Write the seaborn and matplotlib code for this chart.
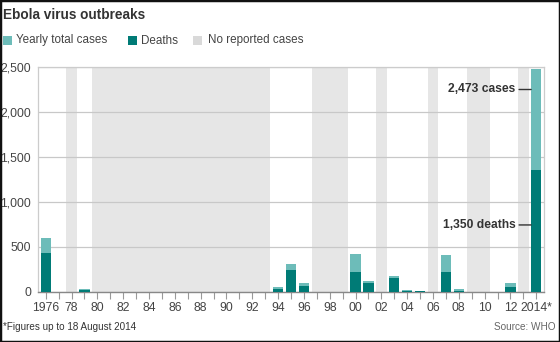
import matplotlib
matplotlib.use("Agg")
import matplotlib.pyplot as plt
from matplotlib.patches import Rectangle
import numpy as np
import pandas as pd
import seaborn as sns

# ---- data ----
years = [1976, 1977, 1979, 1994, 1995, 1996, 2000, 2001, 2003, 2004, 2005,
         2007, 2008, 2011, 2012, 2014]
cases = [602, 1, 34, 53, 315, 99, 425, 122, 178, 18, 12, 413, 32, 1, 100, 2473]
deaths = [431, 1, 22, 32, 250, 67, 224, 96, 157, 8, 10, 224, 15, 1, 57, 1350]
no_case_years = [1978] + list(range(1980, 1994)) + [1997, 1998, 1999, 2002,
                                                    2006, 2009, 2010, 2013]
tick_years = list(range(1976, 2015))
tick_labels = ["1976" if y == 1976 else ("2014*" if y == 2014 else
               (f"{y % 100:02d}" if y % 2 == 0 else "")) for y in tick_years]
y_ticks = [0, 500, 1000, 1500, 2000, 2500]
y_tick_labels = ["0", "500", "1,000", "1,500", "2,000", "2,500"]

df = pd.DataFrame({"year": years, "cases": cases, "deaths": deaths})

LIGHT = "#6dbcb9"
DARK = "#007b76"
BAND = "#e6e6e6"
FONT = ["Liberation Sans", "DejaVu Sans"]

sns.set_theme(style="white")
plt.rcParams["font.family"] = FONT
plt.rcParams["patch.force_edgecolor"] = False

fig = plt.figure(figsize=(5.6, 3.42), dpi=100)
ax = fig.add_axes([38 / 560, 1 - 292 / 342, (544 - 38) / 560, (292 - 67) / 342])

# no-case bands (contiguous runs)
runs = []
for y in no_case_years:
    if runs and y == runs[-1][1] + 1:
        runs[-1][1] = y
    else:
        runs.append([y, y])
for a, b in runs:
    ax.axvspan(a - 0.4, b + 0.4, color=BAND, lw=0, zorder=0.2)

sns.barplot(data=df, x="year", y="cases", native_scale=True, color=LIGHT,
            saturation=1, width=0.8, ax=ax, zorder=2, linewidth=0,
            edgecolor="none")
sns.barplot(data=df, x="year", y="deaths", native_scale=True, color=DARK,
            saturation=1, width=0.8, ax=ax, zorder=3, linewidth=0,
            edgecolor="none")

ax.set_xlim(1975.4, 2014.6)
ax.set_ylim(0, 2500)
ax.set_xlabel("")
ax.set_ylabel("")
ax.set_xticks(tick_years)
ax.set_xticklabels(tick_labels, fontsize=8.7, color="#444")
ax.set_yticks(y_ticks)
ax.set_yticklabels(y_tick_labels, fontsize=8.7, color="#444")
ax.tick_params(axis="x", length=5, width=0.8, color="#999", pad=2, bottom=True)
ax.tick_params(axis="y", length=0, pad=5, left=False)
ax.yaxis.grid(True, color="#c8c8c8", lw=0.9, zorder=0.5)
ax.xaxis.grid(False)
ax.set_axisbelow(True)
for s in ["top", "right", "left"]:
    ax.spines[s].set_visible(True)
    ax.spines[s].set_color("#cccccc")
    ax.spines[s].set_linewidth(0.9)
ax.spines["bottom"].set_color("#888888")
ax.spines["bottom"].set_linewidth(1.0)

# annotations
ax.annotate("2,473 cases", xy=(2013.6, 2250), xytext=(2012.4, 2250),
            ha="right", va="center", fontsize=8.7, fontweight="bold",
            color="#333",
            arrowprops=dict(arrowstyle="-", color="#333", lw=1.0,
                            shrinkA=0.5, shrinkB=0))
ax.annotate("1,350 deaths", xy=(2013.6, 745), xytext=(2012.4, 745),
            ha="right", va="center", fontsize=8.7, fontweight="bold",
            color="#333",
            arrowprops=dict(arrowstyle="-", color="#333", lw=1.0,
                            shrinkA=0.5, shrinkB=0))

# title
fig.text(3 / 560, 1 - 15 / 342, "Ebola virus outbreaks", fontsize=9.8,
         fontweight="bold", color="#333", va="center", ha="left")

# legend
leg_items = [("Yearly total cases", LIGHT, 3, 16.5),
             ("Deaths", DARK, 128, 141),
             ("No reported cases", "#d9d9d9", 193, 208)]
for label, col, sx, tx in leg_items:
    fig.patches.append(Rectangle((sx / 560, 1 - 45 / 342), 9 / 560, 9 / 342,
                                 transform=fig.transFigure, color=col, lw=0))
    fig.text(tx / 560, 1 - 40.5 / 342, label, fontsize=8.4, color="#444",
             va="center", ha="left")

# footer
fig.text(3 / 560, 1 - 327 / 342, "*Figures up to 18 August 2014", fontsize=7.1,
         color="#333", va="center", ha="left")
fig.text(556 / 560, 1 - 327 / 342, "Source: WHO", fontsize=7.2,
         color="#666", va="center", ha="right")

# figure border
fig.patches.append(Rectangle((0, 0), 1, 1, transform=fig.transFigure,
                             fill=False, ec="#111", lw=2.5))

fig.savefig("out.png", dpi=100, facecolor="white")
